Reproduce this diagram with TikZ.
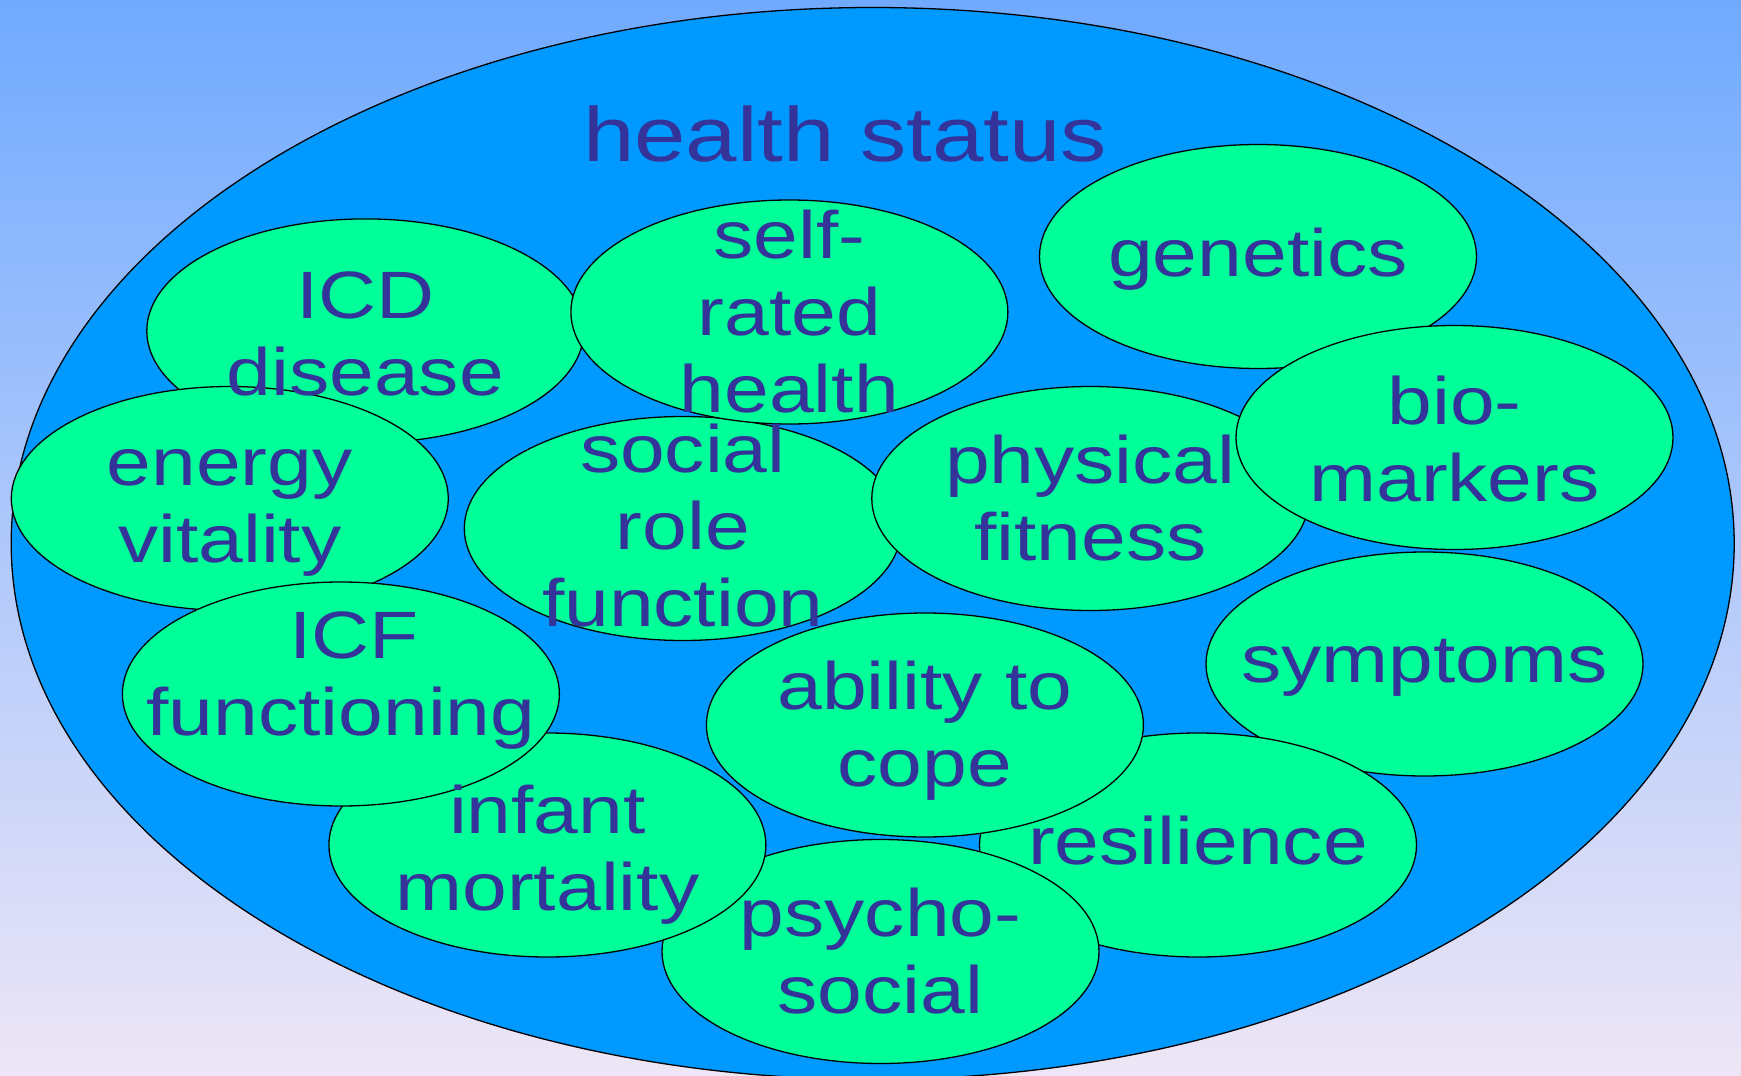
\documentclass[tikz,border=0pt]{standalone}
\usepackage{fontspec}
\newfontfamily\pfont[FakeStretch=1.2]{Liberation Sans}
\usetikzlibrary{shapes.geometric}
\definecolor{bgtop}{HTML}{70AAFF}
\definecolor{bgmid}{HTML}{A8C6F2}
\definecolor{bgbot}{HTML}{EEE6F6}
\definecolor{bigblue}{HTML}{0099FF}
\definecolor{blobgreen}{HTML}{00FF99}
\definecolor{textblue}{HTML}{333399}
\begin{document}
\begin{tikzpicture}[x=1pt,y=-1pt,
  outerblob/.style={ellipse, draw=black, line width=1.3pt, fill=bigblue, inner sep=0pt,
    minimum width=1723pt, minimum height=1072pt},
  blob/.style={ellipse, draw=black, line width=1.3pt, fill=blobgreen, inner sep=0pt,
    minimum width=437pt, minimum height=224pt},
  lbl/.style={font=\pfont\fontsize{67}{77}\selectfont, text=textblue, align=center, inner sep=0pt},
  ttl/.style={font=\pfont\fontsize{77}{85}\selectfont, text=textblue, inner sep=0pt}]
\useasboundingbox (0,0) rectangle (1741,1076);
\shade[top color=bgtop, middle color=bgmid, bottom color=bgbot] (0,0) rectangle (1741,1076);
\node[outerblob] (outer) at (872.7,543.5) {};
\node[ttl, anchor=base] (title) at (845,161) {health status};
% ellipses in drawing order
\node[blob] (icd) at (365.3,330.9) {};
\node[blob] (social) at (682.8,528.5) {};
\node[blob] (self) at (789.4,312.0) {};
\node[blob] (energy) at (229.8,498.5) {};
\node[blob] (genetics) at (1258.0,256.5) {};
\node[blob] (physical) at (1090.3,498.5) {};
\node[blob] (bio) at (1454.5,437.5) {};
\node[blob] (symptoms) at (1424.5,664.0) {};
\node[blob] (resilience) at (1198.0,845.0) {};
\node[blob] (psycho) at (880.5,951.5) {};
\node[blob] (infant) at (547.4,845.0) {};
\node[blob] (icf) at (340.9,694.0) {};
\node[blob] (ability) at (924.9,725.0) {};
% labels on top
\node[lbl] (ticd) at ([yshift=-3pt]icd.center) {ICD\\disease};
\node[lbl] (tsocial) at ([yshift=3pt]social.center) {social\\role\\function};
\node[lbl] (tself) at (self) {self-\\rated\\health};
\node[lbl] (tenergy) at ([yshift=-14pt]energy.center) {energy\\vitality};
\node[lbl] (tgenetics) at ([yshift=-3pt]genetics.center) {genetics};
\node[lbl] (tphysical) at (physical) {physical\\fitness};
\node[lbl] (tbio) at ([yshift=-2pt]bio.center) {bio-\\markers};
\node[lbl] (tsymptoms) at ([yshift=-4pt]symptoms.center) {symptoms};
\node[lbl] (tresilience) at ([yshift=4pt]resilience.center) {resilience};
\node[lbl] (tpsycho) at (psycho) {psycho-\\social};
\node[lbl] (tinfant) at ([yshift=-10pt]infant.center) {infant\\mortality};
\node[lbl] (ticf) at ([yshift=13pt]icf.center) {\hspace*{26pt}ICF\\functioning};
\node[lbl] (tability) at ([yshift=-6pt]ability.center) {ability to\\cope};
\end{tikzpicture}
\end{document}
